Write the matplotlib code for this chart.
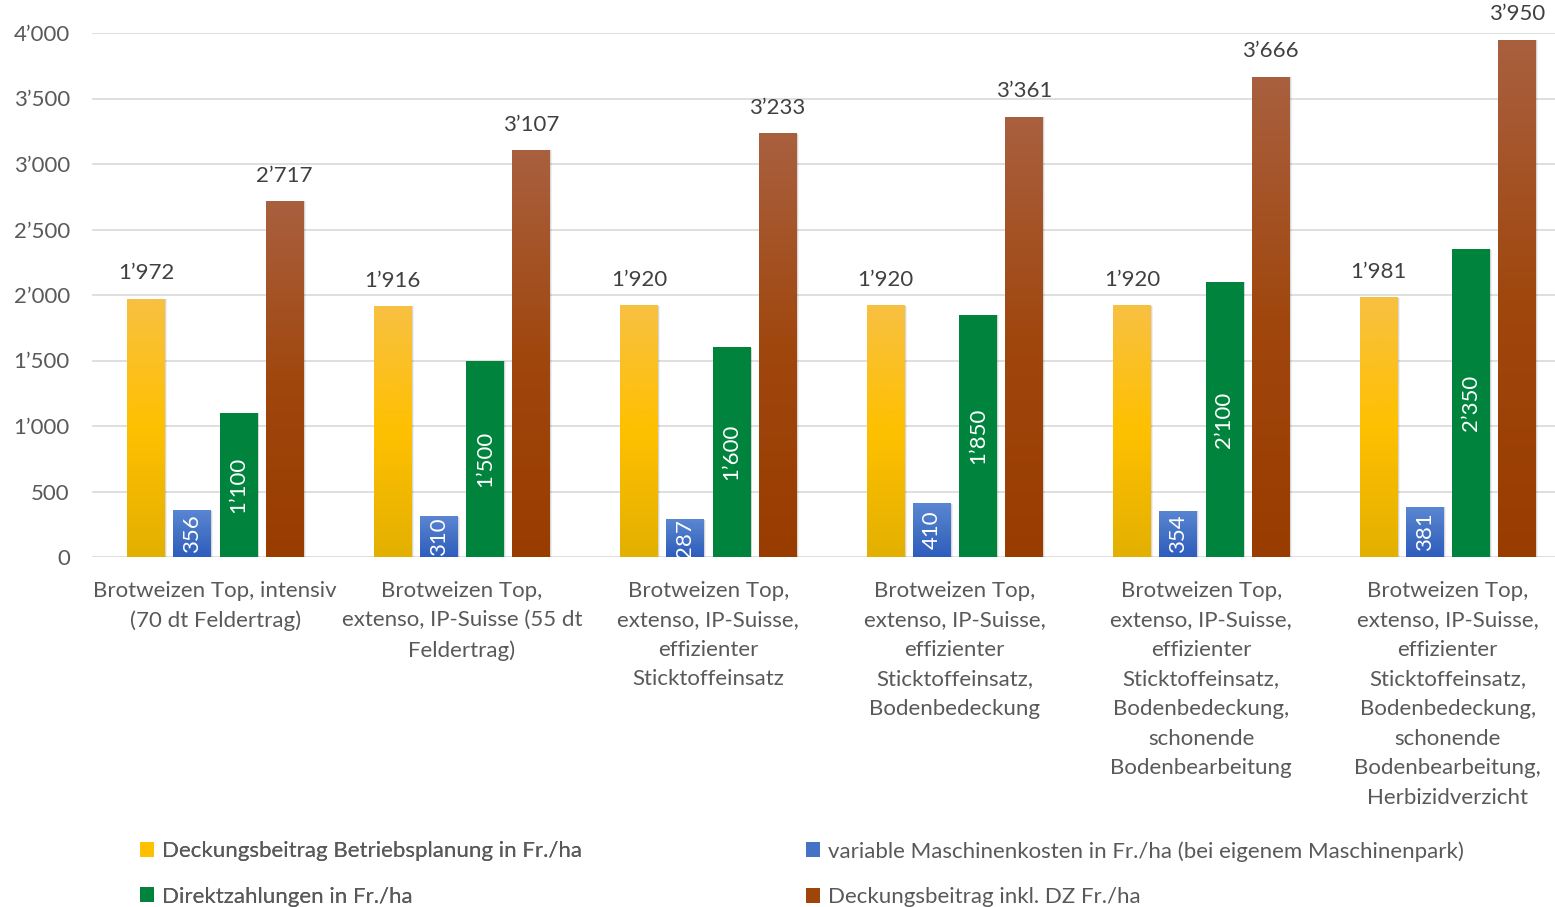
import matplotlib
matplotlib.use("Agg")
import matplotlib.pyplot as plt
import numpy as np
from matplotlib.colors import LinearSegmentedColormap
from matplotlib.patches import Patch

plt.rcParams['font.family'] = ['Lato', 'DejaVu Sans']

categories = [
    "Brotweizen Top, intensiv\n(70 dt Feldertrag)",
    "Brotweizen Top,\nextenso, IP-Suisse (55 dt\nFeldertrag)",
    "Brotweizen Top,\nextenso, IP-Suisse,\neffizienter\nSticktoffeinsatz",
    "Brotweizen Top,\nextenso, IP-Suisse,\neffizienter\nSticktoffeinsatz,\nBodenbedeckung",
    "Brotweizen Top,\nextenso, IP-Suisse,\neffizienter\nSticktoffeinsatz,\nBodenbedeckung,\nschonende\nBodenbearbeitung",
    "Brotweizen Top,\nextenso, IP-Suisse,\neffizienter\nSticktoffeinsatz,\nBodenbedeckung,\nschonende\nBodenbearbeitung,\nHerbizidverzicht",
]
db_betrieb = [1972, 1916, 1920, 1920, 1920, 1981]
maschinen = [356, 310, 287, 410, 354, 381]
direkt = [1100, 1500, 1600, 1850, 2100, 2350]
db_inkl_dz = [2717, 3107, 3233, 3361, 3666, 3950]

series_names = [
    "Deckungsbeitrag Betriebsplanung in Fr./ha",
    "variable Maschinenkosten in Fr./ha (bei eigenem Maschinenpark)",
    "Direktzahlungen in Fr./ha",
    "Deckungsbeitrag inkl. DZ Fr./ha",
]
# gradient stops top -> middle -> bottom
gradients = [
    ["#F8C042", "#FFC000", "#E3B000"],
    ["#5A86D3", "#4472C4", "#2E5DBF"],
    ["#00843D", "#00843D", "#00843D"],
    ["#A9603F", "#A0470E", "#993C00"],
]
legend_colors = ["#FFC000", "#4472C4", "#00843D", "#A0450A"]
FS = 16


def fmt(v):
    return "{:,}".format(v).replace(",", "\u2019")


fig = plt.figure(figsize=(15.55, 9.07), dpi=100)
ax = fig.add_axes([92 / 1555, 1 - 557 / 907, 1479 / 1555, 524 / 907])

x = np.arange(len(categories))
width = 0.152
step = 0.187
all_series = [db_betrieb, maschinen, direkt, db_inkl_dz]
label_modes = ["top", "center", "center", "top"]

for k, vals in enumerate(all_series):
    offs = (k - 1.5) * step
    bars = ax.bar(x + offs, vals, width, color=legend_colors[k], zorder=3)
    cmap = LinearSegmentedColormap.from_list("g%d" % k, gradients[k][::-1])
    grad = np.linspace(0, 1, 256).reshape(-1, 1)
    for b in bars:
        x0, y0 = b.get_x(), b.get_y()
        w, h = b.get_width(), b.get_height()
        # soft shadow
        for s, a in [(0.006, 0.10), (0.010, 0.06)]:
            ax.add_patch(plt.Rectangle((x0 + s, y0), w, h - s * 300, color="#000000",
                                       alpha=a, lw=0, zorder=2))
        im = ax.imshow(grad, extent=[x0, x0 + w, y0, y0 + h], origin="lower",
                       cmap=cmap, aspect="auto", zorder=4)
        im.set_clip_path(b)
    if label_modes[k] == "top":
        for xi, v in zip(x + offs, vals):
            ax.annotate(fmt(v), (xi, v), xytext=(0, 11), textcoords="offset points",
                        ha="center", va="bottom", fontsize=FS, color="#404040",
                        annotation_clip=False, zorder=6)
    else:
        for xi, v in zip(x + offs, vals):
            ax.text(xi, v / 2, fmt(v), ha="center", va="center", rotation=90,
                    fontsize=FS, color="white", zorder=6)

ax.set_xlim(-0.5, len(categories) - 0.5)
ax.set_ylim(0, 4000)
ax.set_yticks(np.arange(0, 4001, 500))
ax.set_yticklabels([fmt(v) for v in range(0, 4001, 500)])
ax.set_xticks(x)
ax.set_xticklabels(categories, linespacing=1.6)
ax.tick_params(axis="both", length=0, labelsize=FS, colors="#595959")
ax.tick_params(axis="y", pad=16)
ax.tick_params(axis="x", pad=17)
ax.grid(axis="y", color="#D9D9D9", lw=1.2, zorder=0)
ax.set_axisbelow(True)
for sp in ax.spines.values():
    sp.set_visible(False)

handles = [Patch(facecolor=c, edgecolor="none") for c in legend_colors]
leg_kw = dict(frameon=False, fontsize=FS, labelcolor="#595959", handlelength=0.65,
              handleheight=0.65, handletextpad=0.35, labelspacing=1.15,
              borderaxespad=0, borderpad=0)
leg1 = fig.legend([handles[0], handles[2]], [series_names[0], series_names[2]],
                  loc="upper left", bbox_to_anchor=(140 / 1555, 1 - 841 / 907), **leg_kw)
fig.add_artist(leg1)
fig.legend([handles[1], handles[3]], [series_names[1], series_names[3]],
           loc="upper left", bbox_to_anchor=(806 / 1555, 1 - 841 / 907), **leg_kw)

fig.savefig("out.png", dpi=100)
